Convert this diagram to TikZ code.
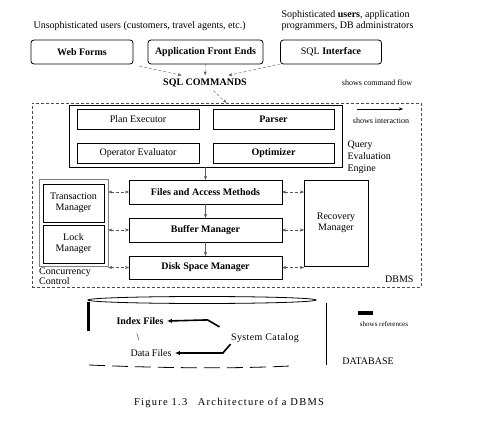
\documentclass[tikz,border=0pt]{standalone}
\usepackage{fontspec}
\setmainfont{Liberation Serif}
\newfontfamily\capfont[LetterSpace=12]{Liberation Serif}
\usetikzlibrary{arrows.meta}

\begin{document}
\begin{tikzpicture}[x=1pt,y=-1pt,font=\fontsize{10}{11}\selectfont,
    box/.style={draw,thick,inner sep=0pt,outer sep=0pt,align=center},
    cmd/.style={densely dashed,gray!70!black,-{Stealth[length=4pt,width=3pt]}},
    both/.style={densely dashed,gray!70!black,{Stealth[length=4pt,width=3pt]}-{Stealth[length=4pt,width=3pt]}},
    flow/.style={gray!70!black,-{Stealth[length=4pt,width=3pt]}},
    ref/.style={line width=1.6pt,-{Latex[length=5pt,width=4.5pt]}}]
      \useasboundingbox (0,0) rectangle (488,428) ;
      \node[anchor=west] (naive) at (30,26) {Unsophisticated users (customers, travel agents, etc.)} ;
      \node[anchor=west,align=left] (expert) at (278,20.5) %
      {Sophisticated \textbf{users}, application\\programmers,\ DB administrators} ;
      \node[box,rounded corners=3pt,minimum width=102,minimum height=24,font=\bfseries] %
      (web) at (82,52) {Web Forms} ;
      \node[box,rounded corners=3pt,minimum width=115,minimum height=24,font=\bfseries] %
      (afe) at (205.5,52) {Application Front Ends} ;
      \node[box,rounded corners=3pt,minimum width=101,minimum height=24] %
      (sqlif) at (331,52) {SQL \textbf{Interface}} ;
      \node[font=\bfseries] (sql) at (205,83) {SQL COMMANDS} ;
      \node (cmdkey) at (377,83) {\footnotesize shows command flow} ;
      \draw[cmd] ([xshift=6pt,yshift=-2pt]web.south east) -- ([xshift=22pt]sql.north west) ;
      \draw[cmd] (afe) -- (sql) ;
      \draw[cmd] (sqlif.south west) -- ([xshift=-22pt]sql.north east) ;
      \node[draw,gray!60!black,densely dashed,minimum width=389,minimum height=184,inner sep=0pt] %
      (dbms) at (226.5,195) {} ;
      \node[anchor=south east] (dbmslbl) at (417,286) {DBMS} ;
      \draw[cmd] (sql) -- (dbms.north) ;
      \node[draw,thick,minimum width=273,minimum height=62,inner sep=0pt] (qee) at (205.5,136) {} ;
      \node[box,minimum width=122,minimum height=20] (plan) at (138,119) {Plan Executor} ;
      \node[box,minimum width=121,minimum height=20,font=\bfseries] (parser) at (273.5,119) {Parser} ;
      \node[box,minimum width=122,minimum height=20] (opeval) at (138,153) {Operator Evaluator} ;
      \node[box,minimum width=121,minimum height=20,font=\bfseries] (optim) at (273.5,153) {Optimizer} ;
      \coordinate (ia) at (357,109) ;
      \coordinate (ib) at (403,109) ;
      \draw[-{Stealth[length=4pt,width=3pt]}] (ia) -- (ib) ;
      \node (intkey) at (381,121) {\footnotesize shows interaction} ;
      \node[anchor=north west,align=left,font=\fontsize{10}{12}\selectfont] (qeelbl) at (344,137) %
      {Query\\Evaluation\\Engine} ;
      \node[box,minimum width=153,minimum height=24,font=\bfseries] (files) at (205.5,192) {Files and Access Methods} ;
      \node[box,minimum width=153,minimum height=24,font=\bfseries] (buffer) at (205.5,230) {Buffer Manager} ;
      \node[box,minimum width=153,minimum height=23,font=\bfseries] (disk) at (205.5,267.5) {Disk Space Manager} ;
      \node[box,minimum width=64,minimum height=86] (recovery) at (336,223) {Recovery\\Manager} ;
      \node[draw,gray,minimum width=69,minimum height=87,inner sep=0pt] (cc) at (73.5,222.5) {} ;
      \node[box,minimum width=61,minimum height=38] (trans) at (73.5,203) {Transaction\\Manager} ;
      \node[box,minimum width=61,minimum height=38] (lock) at (73.5,244) {Lock\\Manager} ;
      \node[anchor=north west,align=left,inner sep=1pt,font=\fontsize{10}{8}\selectfont] %
      (cclbl) at (38,267) {Concurrency\\Control} ;
      \draw[flow] (qee) -- (files) ;
      \draw[flow] (files) -- (buffer) ;
      \draw[flow] (buffer) -- (disk) ;
      \draw[both] (cc.east |- files) -- (files.west) ;
      \draw[both] (cc.east |- buffer) -- (buffer.west) ;
      \draw[both] (cc.east |- disk) -- (disk.west) ;
      \draw[both] (files.east) -- (recovery.west |- files) ;
      \draw[both] (buffer.east) -- (recovery.west |- buffer) ;
      \draw[both] (disk.east) -- (recovery.west |- disk) ;
      \draw[thick] (202,300) ellipse [x radius=114,y radius=3.5] ;
      \draw[line width=3pt] (88,302) -- (88,331) ;
      \draw[thick,dash pattern=on 16pt off 7pt] (89,365) .. controls (160,368) and (230,369) .. (290,366) ;
      \node[font=\bfseries] (index) at (140,321) {Index Files} ;
      \node (slash) at (138,337) {\textbackslash} ;
      \node (data) at (151,353) {Data Files} ;
      \node[font=\fontsize{10}{11}\addfontfeatures{LetterSpace=4}\selectfont] (catalog) at (265,338) {System Catalog} ;
      \draw[ref] ([xshift=-8pt,yshift=3pt]catalog.north west) -- ++(-12,-7) -- (index.east) ;
      \draw[ref] ([xshift=3pt,yshift=2pt]catalog.south west) -- ([xshift=48pt]data.east) -- (data.east) ;
      \draw[thick] (326,303) -- (326,365) ;
      \draw[line width=4pt] (358,313) -- (373,313) ;
      \node (refkey) at (384,324) {\scriptsize shows references} ;
      \node (dblbl) at (368,361) {DATABASE} ;
      \node (caption) at (229,403) {\capfont\fontsize{10.5}{12}\selectfont Figure 1.3\quad Architecture of a DBMS} ;
    \end{tikzpicture}
\end{document}
